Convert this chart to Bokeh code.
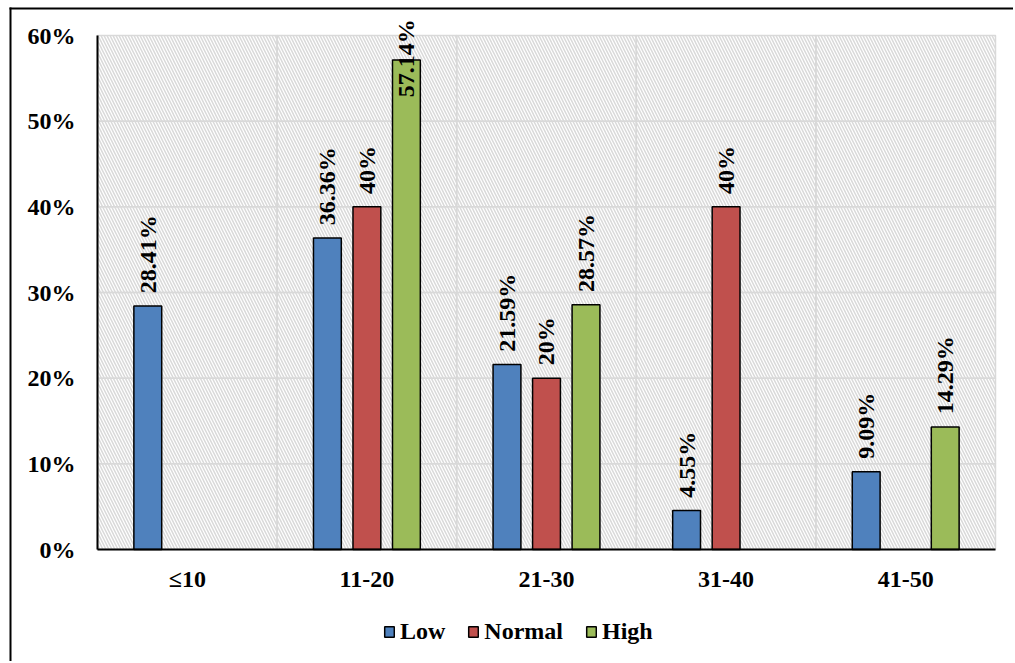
import math
from bokeh.plotting import figure
from bokeh.models import (ColumnDataSource, FixedTicker, BoxAnnotation, LabelSet,
                          Legend, LegendItem, PrintfTickFormatter)
from bokeh.embed import file_html
from bokeh.resources import INLINE

categories = ["≤10", "11-20", "21-30", "31-40", "41-50"]
low = [28.41, 36.36, 21.59, 4.55, 9.09]
normal = [None, 40, 20, 40, None]
high = [None, 57.14, 28.57, None, 14.29]
series_names = ["Low", "Normal", "High"]
series_values = [low, normal, high]
colors = ["#4F81BD", "#C0504D", "#9BBB59"]
y_ticks = [0, 10, 20, 30, 40, 50, 60]

FONT = "Liberation Serif"
FS = "24px"

# page layout (pixels): the frame covers the whole canvas, the plot area is inside
W, H = 1013, 661
PA_LEFT, PA_RIGHT, PA_TOP, PA_BOTTOM = 97, 995, 35, 549
n = len(categories)
y_max = y_ticks[-1]
x_per = (PA_RIGHT - PA_LEFT) / n
y_per = (PA_BOTTOM - PA_TOP) / y_max
x_range = (0.5 - PA_LEFT / x_per, n + 0.5 + (W - PA_RIGHT) / x_per)
y_range = (-(H - PA_BOTTOM) / y_per, y_max + PA_TOP / y_per)

p = figure(width=W, height=H, x_range=x_range, y_range=y_range,
           output_backend="svg", toolbar_location=None,
           min_border_left=0, min_border_top=0, min_border_right=0,
           min_border_bottom=0)
p.outline_line_color = None
p.border_fill_color = "white"

# outer chart border: left and top edges (filled strips)
bx0 = 0.5 - (PA_LEFT - 9) / x_per
bx1 = 0.5 - (PA_LEFT - 11) / x_per
by0 = y_max + (PA_TOP - 7) / y_per
by1 = y_max + (PA_TOP - 9) / y_per
p.add_layout(BoxAnnotation(level="image", left=bx0, right=bx1, top=by0,
                           bottom=y_range[0] - 5, fill_color="black", fill_alpha=1,
                           line_color=None, line_alpha=0))
p.add_layout(BoxAnnotation(level="image", left=bx0, right=x_range[1] + 5, top=by0,
                           bottom=by1, fill_color="black", fill_alpha=1,
                           line_color=None, line_alpha=0))

# hatched plot area with light grid: one cell per category and decade
for i in range(n):
    for j in range(len(y_ticks) - 1):
        p.add_layout(BoxAnnotation(level="image", left=i + 0.5, right=i + 1.5,
                                   bottom=y_ticks[j], top=y_ticks[j + 1],
                                   fill_alpha=0, line_color="#d9d9d9", line_alpha=1,
                                   line_width=1.5,
                                   hatch_pattern="\\", hatch_color="#d9d9d9",
                                   hatch_alpha=1, hatch_weight=1.5, hatch_scale=6))

offsets = [-0.22, 0.0, 0.22]
bar_w = 0.155
label_gap = 1.5
label_cap = 52.8

items = []
for name, vals, col, off in zip(series_names, series_values, colors, offsets):
    xs = [i + 1 + off for i, v in enumerate(vals) if v is not None]
    ys = [v for v in vals if v is not None]
    src = ColumnDataSource(dict(x=xs, top=ys,
                                ly=[min(v + label_gap, label_cap) for v in ys],
                                txt=[f"{v:g}%" for v in ys]))
    r = p.vbar(x="x", top="top", width=bar_w, source=src, fill_color=col,
               line_color="black", line_width=1.5)
    items.append(LegendItem(label=name, renderers=[r]))
    p.add_layout(LabelSet(x="x", y="ly", text="txt", source=src, angle=math.pi / 2,
                          text_align="left", text_baseline="middle",
                          text_font=FONT, text_font_style="bold",
                          text_font_size=FS, text_color="black"))

# axes, fixed at the plot-area edges
p.xaxis.ticker = FixedTicker(ticks=[i + 1 for i in range(n)])
p.xaxis.major_label_overrides = {i + 1: c for i, c in enumerate(categories)}
p.xaxis.fixed_location = 0
p.xaxis.bounds = (0.5, n + 0.5)
p.yaxis.ticker = FixedTicker(ticks=y_ticks)
p.yaxis.formatter = PrintfTickFormatter(format="%d%%")
p.yaxis.fixed_location = 0.5
p.yaxis.bounds = (0, y_max)
for ax in (p.xaxis, p.yaxis):
    ax.axis_line_color = "black"
    ax.axis_line_width = 2
    ax.major_tick_line_color = None
    ax.minor_tick_line_color = None
    ax.major_tick_out = 0
    ax.major_tick_in = 0
    ax.major_label_text_font = FONT
    ax.major_label_text_font_style = "bold"
    ax.major_label_text_font_size = FS
    ax.major_label_text_color = "black"
p.xaxis.major_label_standoff = 16
p.yaxis.major_label_standoff = 22

p.xgrid.visible = False
p.ygrid.visible = False

legend = Legend(items=items, orientation="horizontal", location=(383, H - 645),
                glyph_width=12, glyph_height=13, label_standoff=5, spacing=22,
                padding=0, margin=0, border_line_color=None,
                background_fill_alpha=0,
                label_text_font=FONT, label_text_font_style="bold",
                label_text_font_size=FS, label_text_color="black")
p.add_layout(legend)

open("out.html", "w").write(file_html(p, INLINE))
